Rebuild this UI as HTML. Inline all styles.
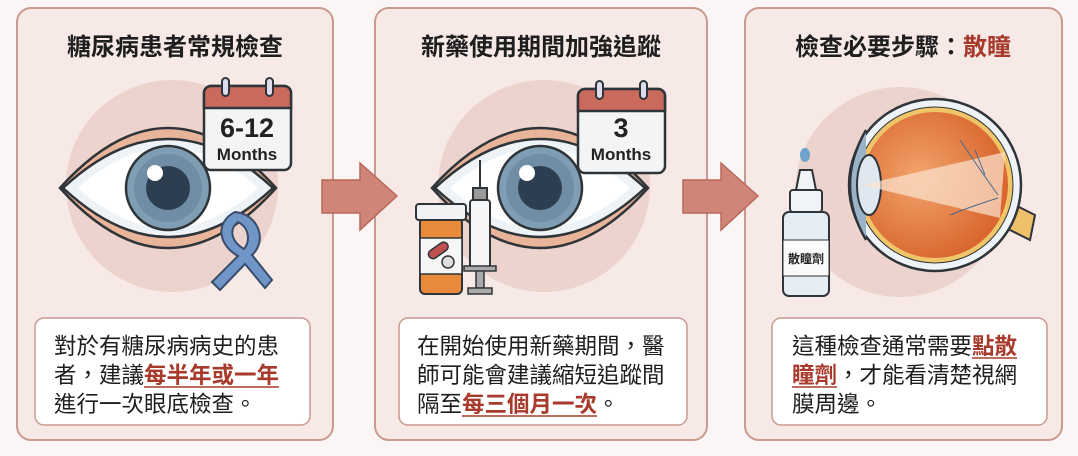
<!DOCTYPE html>
<html><head><meta charset="utf-8"><style>
html,body{margin:0;padding:0;background:#fbf6f5;}
svg{display:block}
text{font-family:"Liberation Sans","Noto Sans CJK TC",sans-serif;}
</style></head><body>
<svg width="1078" height="456" viewBox="0 0 1078 456" xmlns="http://www.w3.org/2000/svg">
<defs>
<radialGradient id="eb" cx="0.4" cy="0.45" r="0.6"><stop offset="0" stop-color="#f2a56b"/><stop offset="1" stop-color="#d9652f"/></radialGradient>
<g id="eye">
  <path d="M-108,0 Q0,-120 108,0 Q0,120 -108,0Z" fill="#e8b49a" stroke="#2f3438" stroke-width="2.5"/>
  <path d="M-105,0 Q0,-98 105,0 Q0,98 -105,0Z" fill="#eef3f7" stroke="#2f3438" stroke-width="2.5"/>
  <path d="M-90,0 Q0,-80 90,0 Q0,80 -90,0Z" fill="#ffffff"/>
  <circle r="42" fill="#7f9db3" stroke="#2f3438" stroke-width="2.5"/>
  <circle r="34" fill="#6f8ea6"/>
  <circle r="22" fill="#2c3e50"/>
  <circle cx="-13" cy="-15" r="8" fill="#fff"/>
</g>
<g id="cal">
  <rect x="0" y="6" width="87" height="84" rx="7" fill="#f3f4f6" stroke="#2f3438" stroke-width="2.5"/>
  <path d="M0,28 V13 a7,7 0 0 1 7,-7 H80 a7,7 0 0 1 7,7 V28Z" fill="#c96a5c" stroke="#2f3438" stroke-width="2.5"/>
  <rect x="18" y="-2" width="7" height="18" rx="3.5" fill="#dde" stroke="#2f3438" stroke-width="2"/>
  <rect x="62" y="-2" width="7" height="18" rx="3.5" fill="#dde" stroke="#2f3438" stroke-width="2"/>
</g>
</defs>
<rect width="1078" height="456" fill="#fbf6f5"/>
<rect x="17" y="8" width="316" height="432" rx="14" fill="#f6e9e6" stroke="#c99a8e" stroke-width="2"/>
<rect x="375" y="8" width="332" height="432" rx="14" fill="#f6e9e6" stroke="#c99a8e" stroke-width="2"/>
<rect x="745" y="8" width="317" height="432" rx="14" fill="#f6e9e6" stroke="#c99a8e" stroke-width="2"/>
<path d="M322,180 H360 V163 L397,196 L360,230 V213 H322Z" fill="#cf8578" stroke="#b9685b" stroke-width="1.5"/>
<path d="M683,180 H721 V163 L758,196 L721,230 V213 H683Z" fill="#cf8578" stroke="#b9685b" stroke-width="1.5"/>
<text x="175" y="55" font-size="24" font-weight="bold" text-anchor="middle" fill="#1e1e1e">糖尿病患者常規檢查</text>
<text x="541" y="55" font-size="24" font-weight="bold" text-anchor="middle" fill="#1e1e1e">新藥使用期間加強追蹤</text>
<text x="903" y="55" font-size="24" font-weight="bold" text-anchor="middle" fill="#1e1e1e">檢查必要步驟：<tspan fill="#a83a2c">散瞳</tspan></text>
<circle cx="172" cy="186" r="106" fill="#ecd3ce"/>
<use href="#eye" x="168" y="188"/>
<use href="#cal" x="204" y="80"/>
<text x="247" y="137" font-size="27" font-weight="bold" text-anchor="middle" fill="#222">6-12</text>
<text x="247" y="160" font-size="17" font-weight="bold" text-anchor="middle" fill="#222">Months</text>
<path d="M235,212 C215,222 218,245 238,256 L212,282 L220,290 L245,264 L265,288 L272,280 L252,255 C268,240 258,214 235,212 Z M238,222 C250,228 250,242 244,249 C232,242 228,230 238,222Z" fill="#7096c8" stroke="#3a4c6a" stroke-width="2"/>
<circle cx="544" cy="186" r="106" fill="#ecd3ce"/>
<use href="#eye" x="540" y="188"/>
<use href="#cal" x="578" y="83"/>
<text x="621" y="137" font-size="27" font-weight="bold" text-anchor="middle" fill="#222">3</text>
<text x="621" y="160" font-size="17" font-weight="bold" text-anchor="middle" fill="#222">Months</text>
<rect x="420" y="218" width="42" height="76" rx="5" fill="#e88a3a" stroke="#2f3438" stroke-width="2"/>
<rect x="416" y="204" width="50" height="16" rx="3" fill="#f1f2f4" stroke="#2f3438" stroke-width="2"/>
<rect x="420" y="238" width="42" height="36" fill="#f6f6f6" stroke="#2f3438" stroke-width="1.5"/>
<rect x="427" y="246" width="22" height="9" rx="4.5" transform="rotate(-35 438 250)" fill="#c05050" stroke="#2f3438" stroke-width="1.5"/>
<circle cx="448" cy="262" r="6" fill="#ddd" stroke="#2f3438" stroke-width="1.5"/>
<line x1="480" y1="160" x2="480" y2="188" stroke="#2f3438" stroke-width="2"/>
<rect x="473" y="188" width="14" height="12" fill="#999" stroke="#2f3438" stroke-width="2"/>
<rect x="470" y="200" width="20" height="68" rx="3" fill="#f4f6f8" stroke="#2f3438" stroke-width="2"/>
<rect x="476" y="268" width="8" height="20" fill="#aaa" stroke="#2f3438" stroke-width="1.5"/>
<rect x="464" y="266" width="32" height="5" fill="#aaa" stroke="#2f3438" stroke-width="1.5"/>
<rect x="468" y="288" width="24" height="6" fill="#aaa" stroke="#2f3438" stroke-width="1.5"/>
<circle cx="900" cy="192" r="105" fill="#ecd3ce"/>
<path d="M1005,200 L1035,215 L1030,240 L1000,225Z" fill="#eec06a" stroke="#2f3438" stroke-width="2"/>
<circle cx="935" cy="185" r="86" fill="#eef3f7" stroke="#2f3438" stroke-width="2.5"/>
<circle cx="935" cy="185" r="78" fill="#f0c468" stroke="#2f3438" stroke-width="1"/>
<circle cx="935" cy="185" r="73" fill="url(#eb)"/>
<path d="M866,130 Q834,185 866,240" fill="#9ab3c8" stroke="#2f3438" stroke-width="2.5"/>
<ellipse cx="869" cy="185" rx="12" ry="30" fill="#dfe8f0" stroke="#2f3438" stroke-width="2"/>
<path d="M862,185 L1005,152 L1000,218Z" fill="#fbe4d0" opacity="0.7"/>
<path d="M960,140 Q980,170 998,195 M950,215 Q975,205 998,198 M975,150 L985,175" stroke="#4a6a90" stroke-width="1" fill="none"/>
<ellipse cx="805" cy="155" rx="5" ry="7" fill="#6fa4cc"/>
<path d="M800,170 H812 L816,190 H796Z" fill="#f1f4f7" stroke="#2f3438" stroke-width="2"/>
<rect x="790" y="190" width="32" height="22" rx="3" fill="#f1f4f7" stroke="#2f3438" stroke-width="2"/>
<rect x="783" y="212" width="46" height="84" rx="6" fill="#e6eef5" stroke="#2f3438" stroke-width="2"/>
<rect x="783" y="240" width="46" height="36" fill="#fafafa" stroke="#2f3438" stroke-width="1"/>
<text x="806" y="263" font-size="12" font-weight="bold" text-anchor="middle" fill="#222">散瞳劑</text>
<rect x="35" y="318" width="275" height="107" rx="9" fill="#fff" stroke="#c99a8e" stroke-width="1.5"/>
<rect x="399" y="318" width="288" height="107" rx="9" fill="#fff" stroke="#c99a8e" stroke-width="1.5"/>
<rect x="772" y="318" width="275" height="107" rx="9" fill="#fff" stroke="#c99a8e" stroke-width="1.5"/>
<g font-size="22.5" fill="#1e1e1e">
<text x="54" y="354">對於有糖尿病病史的患</text>
<text x="54" y="383">者，建議<tspan fill="#a83a2c" font-weight="bold">每半年或一年</tspan></text>
<line x1="144" y1="387" x2="279" y2="387" stroke="#a83a2c" stroke-width="1.5"/>
<text x="54" y="412">進行一次眼底檢查。</text>
<text x="417" y="354">在開始使用新藥期間，醫</text>
<text x="417" y="383">師可能會建議縮短追蹤間</text>
<text x="417" y="412">隔至<tspan fill="#a83a2c" font-weight="bold">每三個月一次</tspan>。</text>
<line x1="462" y1="416" x2="597" y2="416" stroke="#a83a2c" stroke-width="1.5"/>
<text x="792" y="354">這種檢查通常需要<tspan fill="#a83a2c" font-weight="bold">點散</tspan></text>
<line x1="972" y1="358" x2="1017" y2="358" stroke="#a83a2c" stroke-width="1.5"/>
<text x="792" y="383"><tspan fill="#a83a2c" font-weight="bold">瞳劑</tspan>，才能看清楚視網</text>
<line x1="792" y1="387" x2="837" y2="387" stroke="#a83a2c" stroke-width="1.5"/>
<text x="792" y="412">膜周邊。</text>
</g>
</svg>
</body></html>
